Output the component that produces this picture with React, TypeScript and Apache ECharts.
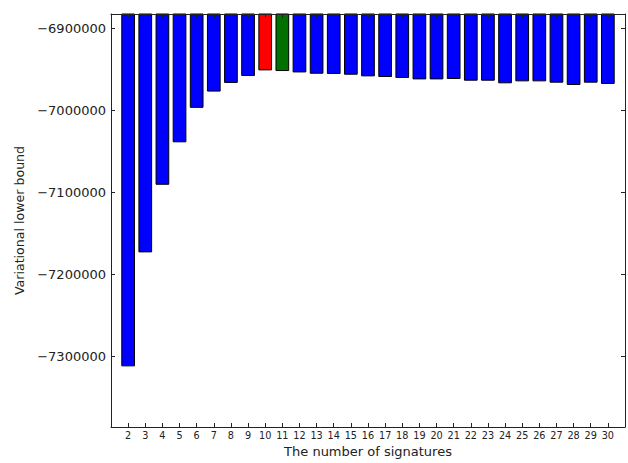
import React, { useEffect, useRef } from "react";
import * as echarts from "echarts";

const categories: number[] = [2, 3, 4, 5, 6, 7, 8, 9, 10, 11, 12, 13, 14, 15, 16, 17, 18, 19, 20, 21, 22, 23, 24, 25, 26, 27, 28, 29, 30];
const values: number[] = [
  -7312600, -7173500, -7091000, -7039200, -6997100, -6977300, -6966700, -6958300,
  -6951400, -6952200, -6953900, -6955500, -6955800, -6956700, -6958700, -6959500,
  -6960700, -6962400, -6962400, -6961900, -6964000, -6964000, -6967200, -6964800,
  -6964800, -6966400, -6969200, -6966400, -6968000,
];
const redCategory = 10;
const greenCategory = 11;
const yMin = -7386600;
const yMax = -6882600;
const xMin = 1;
const xMax = 31;

const FONT = "DejaVu Sans";
const fmtMinus = (v: number) => (v < 0 ? "\u2212" : "") + String(Math.abs(Math.round(v)));

export default function App() {
  const ref = useRef<HTMLDivElement>(null);
  useEffect(() => {
    if (!ref.current) return;
    const chart = echarts.init(ref.current, null, { renderer: "svg" });
    const data = categories.map((c, i) => ({
      value: [c, values[i]],
      itemStyle: {
        color: c === redCategory ? "#ff0000" : c === greenCategory ? "#007000" : "#0000ff",
      },
    }));
    const lineStyle = { color: "#222", width: 1 };
    chart.setOption({
      animation: false,
      grid: { left: 111, right: 2, top: 14, bottom: 34, containLabel: false },
      xAxis: [
        {
          type: "value",
          min: xMin,
          max: xMax,
          interval: 1,
          position: "bottom",
          z: 5,
          splitLine: { show: false },
          axisLine: { show: true, onZero: false, lineStyle },
          axisTick: { show: true, inside: true, length: 4, lineStyle },
          axisLabel: {
            margin: 3,
            fontFamily: FONT,
            fontSize: 9.7,
            color: "#222",
            formatter: (v: number) => (v <= xMin || v >= xMax ? "" : String(v)),
          },
          name: "The number of signatures",
          nameLocation: "middle",
          nameGap: 18,
          nameTextStyle: { fontFamily: FONT, fontSize: 13, color: "#222", verticalAlign: "top" },
        },
        {
          type: "value",
          min: xMin,
          max: xMax,
          interval: 1,
          position: "top",
          z: 5,
          splitLine: { show: false },
          axisLine: { show: true, onZero: false, lineStyle },
          axisTick: { show: true, inside: true, length: 4, lineStyle },
          axisLabel: { show: false },
        },
      ],
      yAxis: [
        {
          type: "value",
          min: yMin,
          max: yMax,
          position: "left",
          z: 5,
          splitLine: { show: false },
          axisLine: { show: true, onZero: false, lineStyle },
          axisTick: { show: true, inside: true, length: 4, lineStyle },
          axisLabel: {
            margin: 5,
            fontFamily: FONT,
            fontSize: 13,
            color: "#222",
            showMinLabel: false,
            showMaxLabel: false,
            formatter: fmtMinus,
          },
          name: "Variational lower bound",
          nameLocation: "middle",
          nameGap: 82,
          nameTextStyle: { fontFamily: FONT, fontSize: 12.6, color: "#222" },
        },
        {
          type: "value",
          min: yMin,
          max: yMax,
          position: "right",
          z: 5,
          splitLine: { show: false },
          axisLine: { show: true, onZero: false, lineStyle },
          axisTick: { show: true, inside: true, length: 4, lineStyle },
          axisLabel: { show: false },
        },
      ],
      series: [
        {
          type: "bar",
          xAxisIndex: 0,
          yAxisIndex: 0,
          barWidth: 13.7,
          clip: true,
          itemStyle: { borderColor: "#000", borderWidth: 1 },
          data,
        },
      ],
    });
    return () => chart.dispose();
  }, []);
  return (
    <div
      ref={ref}
      style={{ position: "fixed", left: 0, top: 0, width: 628, height: 463, background: "#fff" }}
    />
  );
}
